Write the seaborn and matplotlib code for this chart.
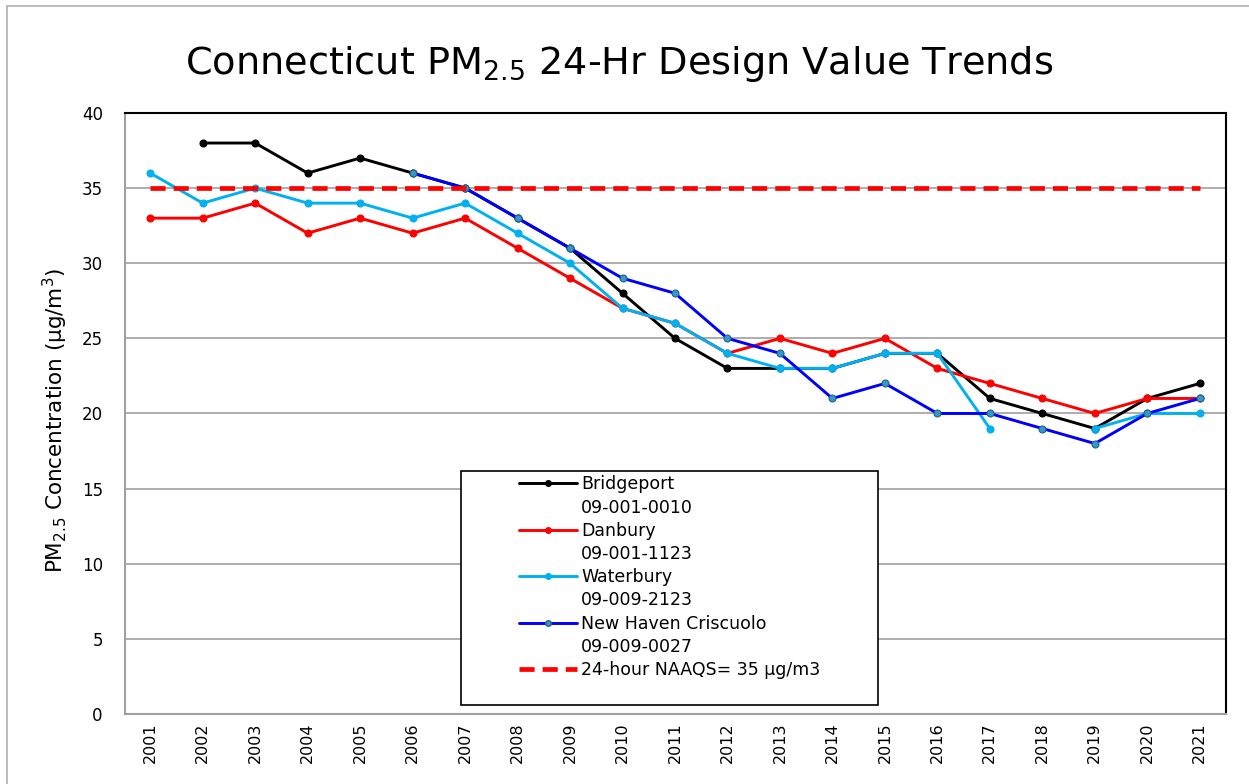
"""
Connecticut PM2.5 24-hour design value trends.
"""
import numpy as np
import pandas as pd
import matplotlib
matplotlib.use("Agg")
import matplotlib.pyplot as plt
from matplotlib.lines import Line2D
import seaborn as sns

years = list(range(2001, 2022))

# design values (None = no value that year)
bridgeport = [None, 38, 38, 36, 37, 36, 35, 33, 31, 28, 25,
              23, 23, 23, 24, 24, 21, 20, 19, 21, 22]
danbury = [33, 33, 34, 32, 33, 32, 33, 31, 29, 27, 26,
           24, 25, 24, 25, 23, 22, 21, 20, 21, 21]
waterbury = [36, 34, 35, 34, 34, 33, 34, 32, 30, 27, 26,
             24, 23, 23, 24, 24, 19, None, 19, 20, 20]
new_haven = [None, None, None, None, None, 36, 35, 33, 31, 29, 28,
             25, 24, 21, 22, 20, 20, 19, 18, 20, 21]

naaqs_years = [2001, 2021]
naaqs_value = 35

series = [
    ("Bridgeport", "09-001-0010", bridgeport, "#000000", "#000000", "#000000"),
    ("Danbury", "09-001-1123", danbury, "#FF0000", "#FF0000", "#FF0000"),
    ("Waterbury", "09-009-2123", waterbury, "#00B0F0", "#00B0F0", "#00B0F0"),
    ("New Haven Criscuolo", "09-009-0027", new_haven, "#0000FF", "#2E9AD0", "#2A5F85"),
]

sns.set_theme(style="white")
plt.rcParams["font.family"] = ["DejaVu Sans"]
for key in ("text.color", "axes.labelcolor", "xtick.color", "ytick.color"):
    plt.rcParams[key] = "#000000"

fig = plt.figure(figsize=(12.49, 7.84), dpi=100)
ax = fig.add_axes([0.1001, 0.0893, 0.8815, 0.7666])

handles, labels = [], []
blank = Line2D([], [], linestyle="none", marker=None)

for name, site, values, line_c, face_c, edge_c in series:
    df = pd.DataFrame({"year": years, "value": values}).astype(float)
    # split into contiguous runs so gaps stay open
    run_id = df["value"].isna().cumsum()
    df = df.dropna()
    for _, chunk in df.groupby(run_id.loc[df.index]):
        sns.lineplot(data=chunk, x="year", y="value", ax=ax, color=line_c,
                     linewidth=2.1, marker="o", markersize=5,
                     markerfacecolor=face_c, markeredgecolor=edge_c,
                     markeredgewidth=0.8, legend=False)
    handles += [Line2D([], [], color=line_c, linewidth=2.1, marker="o",
                       markersize=4, markerfacecolor=face_c,
                       markeredgecolor=edge_c), blank]
    labels += [name, site]

naaqs_df = pd.DataFrame({"year": naaqs_years,
                         "value": [naaqs_value] * len(naaqs_years)})
sns.lineplot(data=naaqs_df, x="year", y="value", ax=ax, color="#FF0000",
             linewidth=3.4, legend=False)
ax.lines[-1].set_dashes((3.2, 1.7))
handles.append(Line2D([], [], color="#FF0000", linewidth=3.4,
                      dashes=(3.2, 1.7)))
labels.append("24-hour NAAQS= 35 µg/m3")

ax.set_xlim(2000.52, 2021.5)
ax.set_ylim(0, 40)
ax.set_xticks(years)
ax.set_xticklabels([str(y) for y in years], rotation=90, fontsize=11.5)
ax.set_yticks(np.arange(0, 41, 5))
ax.tick_params(axis="y", labelsize=12, pad=16, length=0)
ax.tick_params(axis="x", pad=6, length=0)
ax.yaxis.grid(True, color="#A0A0A0", linewidth=1.2)
ax.xaxis.grid(False)
ax.set_axisbelow(True)
ax.set_xlabel("")
ax.set_ylabel("PM$_{2.5}$ Concentration (µg/m$^3$)", fontsize=15.5)
ax.yaxis.set_label_coords(-0.05, 0.4875)

for side in ("left", "bottom"):
    ax.spines[side].set_color("#A0A0A0")
    ax.spines[side].set_linewidth(1.5)
for side in ("top", "right"):
    ax.spines[side].set_color("#000000")
    ax.spines[side].set_linewidth(1.5)

fig.text(0.496, 0.918, "Connecticut PM$_{2.5}$ 24-Hr Design Value Trends",
         ha="center", va="center", fontsize=27.5)

# legend box drawn separately, entries placed inside it
ax.add_patch(plt.Rectangle((0.3052, 0.015), 0.3788, 0.3893,
                           transform=ax.transAxes, fill=True,
                           facecolor="white", edgecolor="#000000",
                           linewidth=1.2, zorder=5))
leg = ax.legend(handles, labels, loc="upper left",
                bbox_to_anchor=(0.3582, 0.397), frameon=False,
                fontsize=12.5, handlelength=3.3, handletextpad=0.25,
                labelspacing=0.3, borderpad=0, borderaxespad=0)
leg.set_zorder(6)

# outer chart border
fig.patches.append(plt.Rectangle((7 / 1249, -0.01), 1.1, 1 - 6 / 784 + 0.01,
                                 transform=fig.transFigure, fill=False,
                                 edgecolor="#B0B0B0", linewidth=1.2))

fig.savefig("out.png", dpi=100)
